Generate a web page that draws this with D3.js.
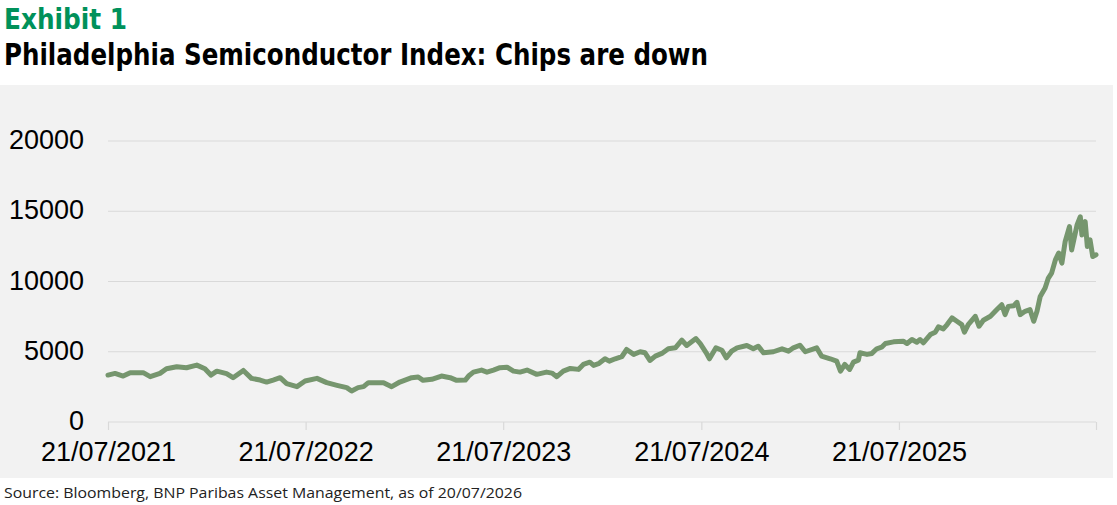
<!DOCTYPE html>
<html>
<head>
<meta charset="utf-8">
<script src="https://cdn.jsdelivr.net/npm/d3@7"></script>
<style>
  body { margin: 0; background: #fff; }
  svg { display: block; }
</style>
</head>
<body>
<script>
// Index levels (approximate, daily series simplified)
var dates = [
  "2021-07-21","2021-08-03","2021-08-18","2021-08-31","2021-09-24","2021-10-07","2021-10-25","2021-11-06",
  "2021-11-25","2021-12-13","2022-01-01","2022-01-16","2022-01-27","2022-02-07","2022-02-25","2022-03-09",
  "2022-03-28","2022-04-12","2022-04-28","2022-05-10","2022-05-22","2022-06-04","2022-06-16","2022-07-05",
  "2022-07-20","2022-08-11","2022-08-29","2022-09-17","2022-10-05","2022-10-14","2022-10-26","2022-11-05",
  "2022-11-14","2022-12-12","2022-12-27","2023-01-11","2023-02-02","2023-02-14","2023-02-23","2023-03-11",
  "2023-03-29","2023-04-14","2023-04-26","2023-05-12","2023-05-18","2023-05-27","2023-06-11","2023-06-21",
  "2023-07-03","2023-07-15","2023-07-28","2023-08-09","2023-08-21","2023-09-03","2023-09-21","2023-10-09",
  "2023-10-19","2023-10-28","2023-11-09","2023-11-22","2023-12-07","2023-12-16","2023-12-28","2024-01-04",
  "2024-01-13","2024-01-25","2024-02-02","2024-02-13","2024-02-25","2024-03-05","2024-03-18","2024-03-30",
  "2024-04-08","2024-04-17","2024-04-27","2024-05-09","2024-05-21","2024-06-03","2024-06-15","2024-06-24",
  "2024-07-11","2024-07-19","2024-07-30","2024-08-05","2024-08-17","2024-08-28","2024-09-05","2024-09-15",
  "2024-09-25","2024-10-13","2024-10-25","2024-11-03","2024-11-13","2024-12-01","2024-12-17","2024-12-29",
  "2025-01-07","2025-01-19","2025-01-29","2025-02-19","2025-02-28","2025-03-16","2025-03-28","2025-04-04",
  "2025-04-12","2025-04-21","2025-04-28","2025-05-07","2025-05-10","2025-05-23","2025-06-01","2025-06-10",
  "2025-06-19","2025-06-26","2025-07-11","2025-07-29","2025-08-05","2025-08-14","2025-08-23","2025-08-29",
  "2025-09-04","2025-09-17","2025-09-26","2025-10-02","2025-10-11","2025-10-18","2025-10-27","2025-11-05",
  "2025-11-14","2025-11-19","2025-11-26","2025-12-09","2025-12-16","2025-12-24","2026-01-06","2026-01-18",
  "2026-01-27","2026-02-02","2026-02-08","2026-02-18","2026-02-24","2026-03-02","2026-03-11","2026-03-20",
  "2026-03-27","2026-04-02","2026-04-08","2026-04-17","2026-04-23","2026-04-29","2026-05-06","2026-05-12",
  "2026-05-18","2026-05-24","2026-06-01","2026-06-05","2026-06-15","2026-06-21","2026-06-24","2026-06-30",
  "2026-07-04","2026-07-09","2026-07-14","2026-07-20"
];
var values = [
  3340,3460,3270,3510,3510,3230,3460,3790,
  3935,3860,4050,3790,3340,3620,3440,3155,
  3670,3105,2985,2840,2985,3155,2730,2515,
  2915,3105,2800,2610,2445,2205,2445,2515,
  2800,2800,2515,2845,3155,3200,2965,3035,
  3270,3155,2965,2985,3270,3550,3695,3550,
  3695,3865,3905,3620,3550,3695,3390,3550,
  3480,3225,3620,3815,3745,4100,4260,4030,
  4150,4500,4330,4500,4645,5160,4810,5000,
  4925,4380,4690,4880,5210,5280,5820,5445,
  5940,5585,4925,4500,5280,5110,4570,5040,
  5280,5445,5210,5395,4925,5000,5210,5040,
  5280,5465,5000,5280,4690,4500,4330,3620,
  4100,3745,4260,4400,4925,4810,4880,5210,
  5325,5585,5705,5750,5585,5870,5680,5870,
  5635,6225,6390,6770,6630,6935,7410,7170,
  6935,6390,6935,7525,6815,7240,7525,8000,
  8350,7645,8230,8280,8515,7645,7880,8000,
  7170,7880,8940,9535,10245,10600,11540,12020,
  11310,12840,13905,12250,14025,14610,13315,14260,
  12485,12960,11775,11900
];
var yTicks = [0, 5000, 10000, 15000, 20000];
var xTickDates = ["2021-07-21","2022-07-21","2023-07-21","2024-07-21","2025-07-21"];
var xEndDate = "2026-07-20";

var W = 1117, H = 505;
var parse = d3.timeParse("%Y-%m-%d");
var fmt = d3.timeFormat("%d/%m/%Y");

var data = dates.map(function(d, i){ return {date: parse(d), value: values[i]}; });

var svg = d3.select("body").append("svg")
  .attr("width", W)
  .attr("height", H);

// panel background
svg.append("rect")
  .attr("x", 0).attr("y", 85)
  .attr("width", 1113).attr("height", 393)
  .attr("fill", "#f2f2f2");

// titles
svg.append("text")
  .attr("x", 4).attr("y", 29)
  .attr("font-family", "'DejaVu Sans Condensed', 'Liberation Sans Narrow', sans-serif")
  .attr("font-weight", "bold")
  .attr("font-size", 28)
  .attr("fill", "#00915a")
  .attr("textLength", 123)
  .attr("lengthAdjust", "spacingAndGlyphs")
  .text("Exhibit 1");

svg.append("text")
  .attr("x", 4).attr("y", 65)
  .attr("font-family", "'DejaVu Sans Condensed', 'Liberation Sans Narrow', sans-serif")
  .attr("font-weight", "bold")
  .attr("font-size", 30)
  .attr("fill", "#000")
  .attr("textLength", 704)
  .attr("lengthAdjust", "spacingAndGlyphs")
  .text("Philadelphia Semiconductor Index: Chips are down");

var x = d3.scaleTime()
  .domain([parse(dates[0]), parse(xEndDate)])
  .range([108, 1096]);

var y = d3.scaleLinear()
  .domain([0, 20000])
  .range([422, 141]);

// gridlines
svg.append("g")
  .selectAll("line")
  .data(yTicks.slice(1))
  .enter().append("line")
  .attr("x1", 108).attr("x2", 1096)
  .attr("y1", function(d){ return y(d); })
  .attr("y2", function(d){ return y(d); })
  .attr("stroke", "#d9d9d9")
  .attr("stroke-width", 1.2);

// y axis labels
var yAxis = d3.axisLeft(y)
  .tickValues(yTicks)
  .tickSize(0)
  .tickPadding(0)
  .tickFormat(d3.format("d"));

var gy = svg.append("g")
  .attr("transform", "translate(84,0)")
  .call(yAxis);
gy.select(".domain").remove();
gy.selectAll("text")
  .attr("font-family", "'Liberation Sans', Arial, sans-serif")
  .attr("font-size", 27)
  .attr("fill", "#000")
  .attr("dy", "0.28em");

// x axis
var xTicks = xTickDates.map(parse).concat([parse(xEndDate)]);
var xAxis = d3.axisBottom(x)
  .tickValues(xTicks)
  .tickSize(8)
  .tickPadding(12)
  .tickFormat(function(d, i){ return i < xTickDates.length ? fmt(d) : ""; });

var gx = svg.append("g")
  .attr("transform", "translate(0," + y(0) + ")")
  .call(xAxis);
gx.select(".domain")
  .attr("stroke", "#d9d9d9")
  .attr("stroke-width", 1.2)
  .attr("d", "M108,0H1096");
gx.selectAll(".tick line")
  .attr("stroke", "#d9d9d9")
  .attr("stroke-width", 1.2);
gx.selectAll("text")
  .attr("font-family", "'Liberation Sans', Arial, sans-serif")
  .attr("font-size", 27)
  .attr("fill", "#000");

// series line
var line = d3.line()
  .x(function(d){ return x(d.date); })
  .y(function(d){ return y(d.value); });

svg.append("path")
  .datum(data)
  .attr("d", line)
  .attr("fill", "none")
  .attr("stroke", "#76966e")
  .attr("stroke-width", 5)
  .attr("stroke-linejoin", "round")
  .attr("stroke-linecap", "round");

// source note
svg.append("text")
  .attr("x", 4).attr("y", 498)
  .attr("font-family", "'Open Sans', 'Liberation Sans', sans-serif")
  .attr("font-size", 15)
  .attr("fill", "#222")
  .attr("textLength", 518)
  .attr("lengthAdjust", "spacingAndGlyphs")
  .text("Source: Bloomberg, BNP Paribas Asset Management, as of 20/07/2026");
</script>
</body>
</html>
